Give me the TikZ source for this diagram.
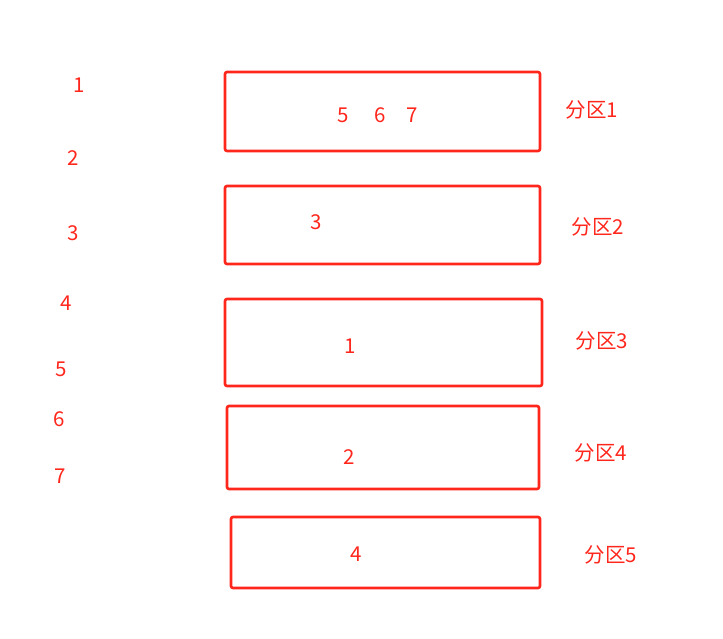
\documentclass[tikz,border=0pt]{standalone}
\usepackage{fontspec}
\newfontfamily\cjk{Noto Sans CJK SC}
\definecolor{partred}{RGB}{255,38,28}
\usetikzlibrary{positioning}
\tikzset{part/.style={draw=partred, line width=2.6pt, rounded corners=2pt, inner sep=0pt},
	num/.style={text=partred, font=\cjk\fontsize{20.5}{20.5}\selectfont, inner sep=0pt},
	partlabel/.style={text=partred, font=\cjk\fontsize{20.5}{20.5}\selectfont, inner sep=0pt}}
\begin{document}
\begin{tikzpicture}[x=1pt, y=-1pt]
					\useasboundingbox (0,0) rectangle (723,638);
					
					\node[part, minimum width=315, minimum height=79] (p1) at (382.5,111.5) {};
					\node[part, minimum width=315, minimum height=78] (p2) at (382.5,225) {};
					\node[part, minimum width=317, minimum height=87] (p3) at (383.5,342.5) {};
					\node[part, minimum width=312, minimum height=83] (p4) at (383,447.5) {};
					\node[part, minimum width=309, minimum height=71] (p5) at (385.5,552.5) {};
					
					\node[partlabel] (l1) at (592,110) {分区1};
					\node[partlabel] (l2) at (598,227) {分区2};
					\node[partlabel] (l3) at (602,341) {分区3};
					\node[partlabel] (l4) at (601,453) {分区4};
					\node[partlabel] (l5) at (611,555) {分区5};
					
					\node[num] (in5) at (343,115) {5};
					\node[num] (in6) at (380,115) {6};
					\node[num] (in7) at (412,115) {7};
					\node[num] (in3) at (316,222) {3};
					\node[num] (in1) at (350,346) {1};
					\node[num] (in2) at (349,457) {2};
					\node[num] (in4) at (356,554) {4};
					
					\node[num] (m1) at (79,85) {1};
					\node[num] (m2) at (73,158) {2};
					\node[num] (m3) at (73,233) {3};
					\node[num] (m4) at (66,303) {4};
					\node[num] (m5) at (61,369) {5};
					\node[num] (m6) at (59,419) {6};
					\node[num] (m7) at (60,476) {7};
					
\end{tikzpicture}
\end{document}
